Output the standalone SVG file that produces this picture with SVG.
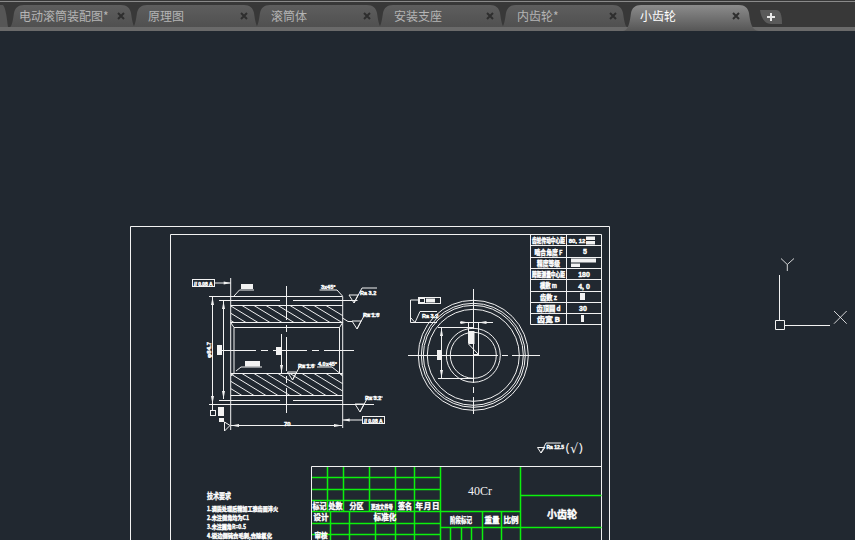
<svg xmlns="http://www.w3.org/2000/svg" width="855" height="540" viewBox="0 0 855 540">
<style>
.w{stroke:#f2f2f2;stroke-width:1;fill:none}
.g{stroke:#0cf00c;stroke-width:1.500;fill:none}
.d{stroke:#f2f2f2;stroke-width:1;fill:none;stroke-dasharray:34 5 7 5}
.t{font-family:"Liberation Sans","Noto Sans CJK SC",sans-serif;fill:#fff;font-weight:bold;stroke:#fff;stroke-width:.4}
.c{font-family:"Noto Sans CJK SC",sans-serif;fill:#fff;font-weight:bold;stroke:#fff;stroke-width:.4;font-size:7.500px;text-anchor:middle}
.tab{font-family:"Noto Sans CJK SC",sans-serif;font-size:12px;fill:#b4b4b4}
.x{stroke:#2e2e2e;stroke-width:2;fill:none}
.f{fill:#f2f2f2}
</style>
<defs>
<linearGradient id="tg" x1="0" y1="0" x2="0" y2="1"><stop offset="0" stop-color="#5e5e5e"/><stop offset="1" stop-color="#505050"/></linearGradient>
<linearGradient id="ta" x1="0" y1="0" x2="0" y2="1"><stop offset="0" stop-color="#8c8c8c"/><stop offset="1" stop-color="#565656"/></linearGradient>
<clipPath id="band1"><rect x="230.700" y="305.500" width="112" height="17"/></clipPath>
<clipPath id="band2"><rect x="230.700" y="373.500" width="112" height="22"/></clipPath>
<path id="tabshape" d="M2 27C4 26 5 20 6 13C7 8 10 5 16 5H113C119 5 122 8 123 13C124 20 125 26 127 27Z"/>
<path id="closex" d="M-3 -3L3 3M3 -3L-3 3"/>
<path id="sf" d="M0 0L5 8L9 0H0M5 8L13 -7H28" />
</defs>
<rect width="855" height="540" fill="#212830"/>
<g id="tabbar">
<rect width="855" height="27" fill="#383838"/>
<rect y="1" width="855" height="1" fill="#8a8a8a"/>
<rect y="27" width="855" height="4" fill="#6a6a6a"/>
<path d="M0 5H3C6 8 7 20 8 27H0Z" fill="#565656"/>
</g>
<g id="tab1" transform="translate(8 0)"><use href="#tabshape" fill="url(#tg)"/><text class="tab" x="11" y="21">电动滚筒装配图*</text><use href="#closex" class="x" x="113" y="16"/></g>
<g id="tab2" transform="translate(131 0)"><use href="#tabshape" fill="url(#tg)"/><text class="tab" x="17" y="21">原理图</text><use href="#closex" class="x" x="113" y="16"/></g>
<g id="tab3" transform="translate(254 0)"><use href="#tabshape" fill="url(#tg)"/><text class="tab" x="17" y="21">滚筒体</text><use href="#closex" class="x" x="113" y="16"/></g>
<g id="tab4" transform="translate(377 0)"><use href="#tabshape" fill="url(#tg)"/><text class="tab" x="17" y="21">安装支座</text><use href="#closex" class="x" x="113" y="16"/></g>
<g id="tab5" transform="translate(500 0)"><use href="#tabshape" fill="url(#tg)"/><text class="tab" x="17" y="21">内齿轮*</text><use href="#closex" class="x" x="113" y="16"/></g>
<g id="tab6" transform="translate(623 0)"><path d="M0 31C5 31 7 22 8 13C9 8 12 5 18 5H116C122 5 125 8 126 13C127 22 129 31 136 31Z" fill="url(#ta)"/><text class="tab" x="17" y="21" style="fill:#fff">小齿轮</text><use href="#closex" class="x" x="113" y="16"/></g>
<g id="newtab"><path d="M760 10H776C780 10 782 14 782 24H771C765 24 761 18 760 10Z" fill="#5a5a5a"/><path d="M771 13V21M767 17H775" stroke="#e8e8e8" stroke-width="2" fill="none"/></g>

<g id="frame">
<path class="w" d="M130.500 540V226.500H609.500V540M170.500 540V234.500H601.500V540"/>
</g>

<g id="param-table">
<path class="w" d="M530.500 234.500V324.500H601.500M530.500 245.500H601.500M530.500 257.500H601.500M530.500 268.500H601.500M530.500 279.500H601.500M530.500 291.500H601.500M530.500 302.500H601.500M530.500 313.500H601.500M566.500 234.500V324.500"/>
<text class="c" style="font-size:6.500px" x="548.500" y="243" textLength="33" lengthAdjust="spacingAndGlyphs">齿轮传动中心距</text>
<text class="c" style="font-size:6.500px" x="548.500" y="254.500" textLength="28" lengthAdjust="spacingAndGlyphs">啮合角度 F</text>
<text class="c" style="font-size:6.500px" x="548.500" y="265.500" textLength="23" lengthAdjust="spacingAndGlyphs">精度等级</text>
<text class="c" style="font-size:6.500px" x="548.500" y="277" textLength="33" lengthAdjust="spacingAndGlyphs">跨距测量中心距</text>
<text class="c" style="font-size:6.500px" x="548.500" y="288" textLength="17" lengthAdjust="spacingAndGlyphs">模数 m</text>
<text class="c" style="font-size:6.500px" x="548.500" y="299.500" textLength="17" lengthAdjust="spacingAndGlyphs">齿数 z</text>
<text class="c" style="font-size:6.500px" x="548.500" y="311" textLength="24" lengthAdjust="spacingAndGlyphs">齿顶圆 d</text>
<text class="c" style="font-size:6.500px" x="548.500" y="322" textLength="23" lengthAdjust="spacingAndGlyphs">齿宽 B</text>
<text class="t" x="577" y="243" font-size="6" text-anchor="middle">80, 12</text>
<rect class="f" x="586" y="236.500" width="9" height="3.500"/><rect class="f" x="586" y="241" width="9" height="3.500"/>
<text class="t" x="585" y="254" font-size="7" text-anchor="middle">5</text>
<rect class="f" x="571" y="258.500" width="25" height="4"/><rect class="f" x="571" y="263.500" width="9" height="3.500"/>
<text class="t" x="584" y="277" font-size="7" text-anchor="middle">180</text>
<text class="t" x="584" y="288.500" font-size="7" text-anchor="middle">4, 0</text>
<rect class="f" x="580" y="293" width="5" height="7"/>
<text class="t" x="583" y="311" font-size="7" text-anchor="middle">30</text>
<rect class="f" x="581" y="315" width="3" height="7"/>
</g>

<g id="section-view">
<g clip-path="url(#band1)"><path class="w" d="M206 305.500l28 17M218 305.500l28 17M230 305.500l28 17M242 305.500l28 17M254 305.500l28 17M266 305.500l28 17M278 305.500l28 17M290 305.500l28 17M302 305.500l28 17M314 305.500l28 17M326 305.500l28 17"/></g>
<g clip-path="url(#band2)"><path class="w" d="M194 373.500l36 22M206 373.500l36 22M218 373.500l36 22M230 373.500l36 22M242 373.500l36 22M254 373.500l36 22M266 373.500l36 22M278 373.500l36 22M290 373.500l36 22M302 373.500l36 22M314 373.500l36 22M326 373.500l36 22"/></g>
<path class="w" d="M209 296.500H342.700M219 300.500H280M293 300.500H357.500M230.700 305.500H342.700M230.700 322.500H342.700M234 327.500H339.500M230.700 373.500H342.700M230.700 395.500H342.700M219 400.500H280M293 400.500H342.700M209 404.500H374"/>
<path class="w" d="M230.700 278V430M342.700 296.500V428M234 327.500V373.500M339.500 327.500V373.500M230.700 322.500L234 327.500M342.700 322.500L339.500 327.500M230.700 376L234 373.500M342.700 376L339.500 373.500"/>
<path class="d" d="M286.500 286V413"/>
<path class="d" d="M222 350.500H354"/>
<path class="w" d="M212.500 297V404M223.500 301V399M281.500 334V373M231 425.500H342"/>
<path class="f" d="M212.500 297l-1.500 8h3zM212.500 404l-1.500 -8h3zM223.500 301l-1.500 8h3zM223.500 399l-1.500 -8h3zM281.500 373l-1.500 -8h3zM231 425.500l8 -1.500v3zM342 425.500l-8 -1.500v3z"/>
<rect class="f" x="217" y="345" width="5" height="10"/>
<rect class="f" x="276" y="347" width="5" height="8"/>
<text class="t" font-size="6" transform="translate(211 358) rotate(-90)">φ84.7</text>
<text class="t" font-size="6" x="284" y="426">70</text>
<path class="w" d="M234 296L239.500 290H254M236 371L241 367H262M319.500 290H337L342.500 296M317 367H332L342 375"/>
<rect class="f" x="241" y="284" width="12" height="5"/><rect class="f" x="245" y="361" width="15" height="5.500"/>
<text class="t" font-size="5.500" x="321" y="289">3x45°</text>
<text class="t" font-size="5.500" x="318" y="366">4.0x45°</text>
<path class="w" d="M342.500 318L348 321.500H352"/>
<use href="#sf" class="w" x="349" y="295"/><text class="t" font-size="5.500" x="360" y="295">Ra 3.2</text>
<use href="#sf" class="w" x="352" y="321"/><text class="t" font-size="5.500" x="363" y="317">Ra 1.6</text>
<use href="#sf" class="w" x="287.500" y="372"/><text class="t" font-size="5.500" x="298" y="368">Ra 1.6</text>
<use href="#sf" class="w" x="355" y="404"/><text class="t" font-size="5.500" x="365" y="400">Ra 3.2</text>
<path class="w" d="M215 283H230.700M342.700 420H362"/>
<path class="f" d="M230.700 283l-7 -1.500v3zM342.700 420l7 -1.500v3z"/>
<rect class="w" x="192.500" y="279.500" width="22" height="7"/>
<text class="t" font-size="5" x="194" y="285.500">// 0.08 A</text>
<rect class="w" x="362.500" y="416.500" width="22" height="7"/>
<text class="t" font-size="5" x="364" y="422.500">// 0.08 A</text>
<path class="w" d="M212.500 404V410"/>
<rect class="w" x="210.500" y="410.500" width="5" height="5"/>
<rect class="f" x="218" y="407" width="6" height="9"/><rect class="f" x="219" y="418" width="5" height="4"/>
<path class="w" d="M230 425.500L224.500 422V431Z"/>
</g>

<g id="end-view">
<circle class="w" cx="473.300" cy="355.300" r="55"/>
<circle class="w" cx="473.300" cy="355.300" r="52"/>
<circle class="w" cx="473.300" cy="355.300" r="50"/>
<circle class="w" cx="473.300" cy="355.300" r="46"/>
<circle class="w" cx="473.300" cy="355.300" r="27"/>
<circle class="w" cx="473.300" cy="355.300" r="23"/>
<path class="d" d="M473.500 289V414" style="stroke-dasharray:40 4 6 4"/>
<path class="d" d="M408 355.500H540" style="stroke-dasharray:90 4 6 4"/>
<path class="w" d="M438 327.500H474M438 378.500H474M441.500 328V378M460 322.500H493M468.500 322.500V343.500M478.500 322.500V355"/>
<path class="f" d="M441.500 328l-1.500 8h3zM441.500 378l-1.500 -8h3zM468.500 322.500l-8 -1.500v3zM478.500 322.500l8 -1.500v3z"/>
<rect class="f" x="468.500" y="331" width="6" height="13"/>
<path class="w" d="M468.500 344L478.500 354.500H473"/>
<rect class="f" x="437" y="350" width="5" height="10"/>
<rect class="w" x="418.500" y="297.500" width="22" height="6"/>
<rect class="w" x="419.500" y="298.500" width="5" height="4"/>
<rect class="f" x="426" y="298.500" width="9" height="4"/>
<path class="w" d="M418.500 300H410.500V322.500H437"/>
<path class="w" d="M410.500 317.500L415 322.500L420 311.500H437"/>
<text class="t" font-size="5.500" x="422" y="318">Ra 3.2</text>
</g>

<g id="roughness-note">
<path class="w" d="M537.500 447.500H545L541 453L537.500 447.500M541 453L546 443H561"/>
<text class="t" font-size="5" x="546.500" y="449">Ra 12.5</text>
<text font-family="DejaVu Sans,sans-serif" font-size="13" fill="#f2f2f2" x="565" y="453">(√)</text>
</g>

<g id="tech-notes">
<text class="c" x="207" y="499" style="text-anchor:start;font-size:8px" textLength="24" lengthAdjust="spacingAndGlyphs">技术要求</text>
<text class="c" x="207" y="511" style="text-anchor:start;font-size:6px" textLength="71" lengthAdjust="spacingAndGlyphs">1.调质处理后精加工滚齿面淬火</text>
<text class="c" x="207" y="520" style="text-anchor:start;font-size:6px" textLength="42" lengthAdjust="spacingAndGlyphs">2.未注倒角均为C1</text>
<text class="c" x="207" y="529" style="text-anchor:start;font-size:6px" textLength="39" lengthAdjust="spacingAndGlyphs">3.未注圆角R=0.5</text>
<text class="c" x="207" y="538" style="text-anchor:start;font-size:6px" textLength="65" lengthAdjust="spacingAndGlyphs">4.锐边倒钝去毛刺,去除氧化</text>
</g>

<g id="title-block">
<path class="g" d="M327.500 466V511M343.500 466V511M369.500 466V511M395.500 466V540M414.500 466V540M440.500 466V540M311 477.500H440.500M311 489.500H440.500M311 500.500H440.500M311 511.500H520.500M330.500 511.500V540M349.500 511.500V540M375.500 511.500V540M311 523.500H440.500M311 534.500H440.500"/>
<path class="g" d="M520.500 466V540M482.500 511.500V540M501.500 511.500V540M440.500 527.500H601.500M520.500 495.500H601.500M450.500 527.500V540M461.500 527.500V540M471.500 527.500V540"/>
<path class="w" d="M311.500 540V466.500H601.500"/>
<text class="c" x="319.500" y="508.500" textLength="14" lengthAdjust="spacingAndGlyphs">标记</text>
<text class="c" x="335.500" y="508.500" textLength="14" lengthAdjust="spacingAndGlyphs">处数</text>
<text class="c" x="356.500" y="508.500" textLength="14" lengthAdjust="spacingAndGlyphs">分区</text>
<text class="c" x="382" y="508.500" textLength="22" lengthAdjust="spacingAndGlyphs" style="font-size:6px">更改文件号</text>
<text class="c" x="405" y="508.500" textLength="14" lengthAdjust="spacingAndGlyphs">签名</text>
<text class="c" x="427.500" y="508.500" textLength="24">年月日</text>
<text class="c" x="321" y="519.500">设计</text>
<text class="c" x="385" y="519.500">标准化</text>
<text class="c" x="321" y="538" style="font-size:6.500px">审核</text>
<text class="c" x="461" y="523" textLength="22" lengthAdjust="spacingAndGlyphs">阶段标记</text>
<text class="c" x="492" y="523">重量</text>
<text class="c" x="511" y="523">比例</text>
<text x="480" y="495" font-family="Liberation Serif,serif" font-size="12" fill="#f2f2f2" text-anchor="middle">40Cr</text>
<text class="c" x="562" y="518" style="font-size:10px">小齿轮</text>
</g>

<g id="ucs-icon">
<path class="w" d="M779.500 275V320.500M785 325.500H830M775.500 320.500H784.500V329.500H775.500Z"/>
<path class="w" d="M781 258.500L787.300 264.500L794 258.500M787.300 264.500V271M834 311L846.700 323.700M846.700 311L834 323.700" style="stroke-opacity:.85"/>
</g>
</svg>
